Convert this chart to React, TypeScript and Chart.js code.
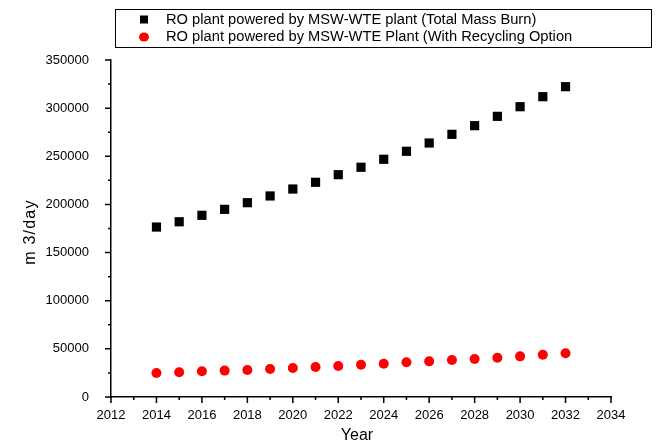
import React, { useEffect, useRef } from "react";
import { Chart, registerables } from "chart.js";

Chart.register(...registerables);

const years = [2014, 2015, 2016, 2017, 2018, 2019, 2020, 2021, 2022, 2023, 2024, 2025, 2026, 2027, 2028, 2029, 2030, 2031, 2032];
const totalMassBurn = [176500, 182000, 188700, 194900, 201800, 208800, 216000, 223000, 230900, 238600, 246900, 255200, 263800, 272800, 281800, 291500, 301500, 311900, 322300];
const withRecycling = [24900, 25650, 26700, 27400, 28000, 29100, 30100, 31200, 32200, 33500, 34600, 36000, 37000, 38400, 39500, 40800, 42200, 43900, 45400];
const seriesLabels = [
  "RO plant powered by MSW-WTE plant (Total Mass Burn)",
  "RO plant powered by MSW-WTE Plant (With Recycling Option",
];
const xTitle = "Year";
const yTitle = "m 3/day";

const FONT = "'Liberation Sans', Arial, sans-serif";

const minorTicksPlugin = {
  id: "minorTicks",
  afterDraw(chart: any) {
    const ctx = chart.ctx;
    const xs = chart.scales.x;
    const ys = chart.scales.y;
    const area = chart.chartArea;
    ctx.save();
    ctx.strokeStyle = "#000";
    ctx.lineWidth = 1.5;
    ctx.beginPath();
    for (let v = ys.min; v <= ys.max; v += 25000) {
      const py = ys.getPixelForValue(v);
      const len = v % 50000 === 0 ? 6 : 3;
      ctx.moveTo(area.left, py);
      ctx.lineTo(area.left - len, py);
    }
    for (let v = xs.min; v <= xs.max; v += 1) {
      const px = xs.getPixelForValue(v);
      const len = v % 2 === 0 ? 6 : 3;
      ctx.moveTo(px, area.bottom);
      ctx.lineTo(px, area.bottom + len);
    }
    ctx.stroke();

    // axis titles
    ctx.fillStyle = "#000";
    ctx.textAlign = "center";
    ctx.textBaseline = "middle";
    ctx.font = `16px ${FONT}`;
    ctx.fillText(xTitle, (area.left + area.right) / 2 - 4, 436);
    ctx.save();
    ctx.translate(31, 232);
    ctx.rotate(-Math.PI / 2);
    (ctx as any).letterSpacing = "1.2px";
    ctx.font = `16px ${FONT}`;
    ctx.fillText(yTitle, 0, 0);
    ctx.restore();
    ctx.restore();
  },
};

const boxLegendPlugin = {
  id: "boxLegend",
  afterDraw(chart: any) {
    const ctx = chart.ctx;
    ctx.save();
    ctx.strokeStyle = "#000";
    ctx.lineWidth = 1;
    ctx.strokeRect(115.5, 9.5, 536, 38);
    const rows = [19.5, 37];
    chart.data.datasets.forEach((ds: any, i: number) => {
      const y = rows[i];
      ctx.fillStyle = ds.backgroundColor;
      if (ds.pointStyle === "rect") {
        ctx.fillRect(140, y - 4, 8, 8);
      } else {
        ctx.beginPath();
        ctx.ellipse(144, y, 5, 4.6, 0, 0, Math.PI * 2);
        ctx.fill();
      }
      ctx.fillStyle = "#000";
      ctx.font = `14.7px ${FONT}`;
      ctx.textBaseline = "middle";
      ctx.textAlign = "left";
      ctx.fillText(ds.label, 166, y);
    });
    ctx.restore();
  },
};

export default function App() {
  const ref = useRef<HTMLCanvasElement | null>(null);
  useEffect(() => {
    document.body.style.margin = "0";
    if (!ref.current) return;
    const chart = new Chart(ref.current, {
      type: "scatter",
      data: {
        datasets: [
          {
            label: seriesLabels[0],
            data: years.map((x, i) => ({ x, y: totalMassBurn[i] })),
            backgroundColor: "#000000",
            borderWidth: 0,
            pointStyle: "rect",
            pointRadius: 6.5,
            pointHoverRadius: 6.5,
          },
          {
            label: seriesLabels[1],
            data: years.map((x, i) => ({ x, y: withRecycling[i] })),
            backgroundColor: "#ff0000",
            borderWidth: 0,
            pointStyle: "circle",
            pointRadius: 5,
            pointHoverRadius: 5,
          },
        ],
      },
      options: {
        responsive: false,
        animation: false,
        layout: { padding: { top: 60, right: 57, left: 0, bottom: 0 } },
        plugins: {
          legend: { display: false },
          tooltip: { enabled: false },
        },
        scales: {
          x: {
            type: "linear",
            min: 2012,
            max: 2034,
            afterFit: (s: any) => {
              s.height = 49;
            },
            grid: { display: false, drawTicks: false },
            border: { display: true, color: "#000", width: 1.5 },
            ticks: {
              stepSize: 2,
              padding: 11,
              color: "#000",
              font: { family: FONT, size: 13 },
              maxRotation: 0,
              callback: (v: any) => String(v),
            },
            title: { display: false },
          },
          y: {
            type: "linear",
            min: 0,
            max: 350000,
            afterFit: (s: any) => {
              s.width = 111;
            },
            grid: { display: false, drawTicks: false },
            border: { display: true, color: "#000", width: 1.5 },
            ticks: {
              stepSize: 50000,
              padding: 22,
              color: "#000",
              font: { family: FONT, size: 13 },
              callback: (v: any) => String(v),
            },
            title: { display: false },
          },
        },
      },
      plugins: [minorTicksPlugin, boxLegendPlugin],
    });
    return () => chart.destroy();
  }, []);
  return <canvas ref={ref} width={668} height={446} style={{ display: "block" }} />;
}
